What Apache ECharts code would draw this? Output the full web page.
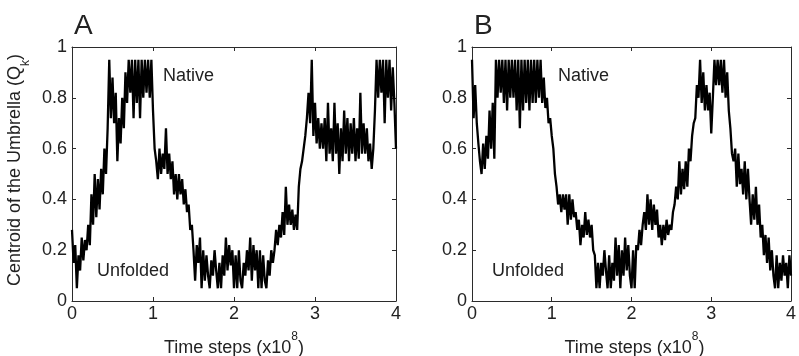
<!DOCTYPE html>
<html><head><meta charset="utf-8">
<script src="https://cdn.jsdelivr.net/npm/echarts@6/dist/echarts.min.js"></script>
<style>html,body{margin:0;padding:0;background:#fff}#c{width:799px;height:356px}</style>
</head><body><div id="c"></div>
<script>
// time between samples, in units of 10^8 time steps
const timeStep = 0.02;
const xTicks = [0, 1, 2, 3, 4];
const yTicks = [0, 0.2, 0.4, 0.6, 0.8, 1];
const panelLabels = ['A', 'B'];
const nativeLabel = 'Native';
const unfoldedLabel = 'Unfolded';

// Centroid of the umbrella Q_k, panel A
const qkA = [
  0.28,0.15,0.22,0.05,0.18, 0.12,0.25,0.16,0.24,0.20,
  0.30,0.22,0.42,0.30,0.50, 0.33,0.48,0.36,0.52,0.42,
  0.60,0.50,0.68,0.95,0.72, 0.88,0.70,0.82,0.55,0.72,
  0.62,0.80,0.68,0.90,0.78, 0.95,0.82,0.95,0.72,0.95,
  0.78,0.95,0.72,0.95,0.80, 0.95,0.82,0.95,0.80,0.95,
  0.75,0.60,0.55,0.48,0.60, 0.50,0.58,0.52,0.68,0.50,
  0.58,0.48,0.55,0.42,0.50, 0.40,0.50,0.42,0.48,0.38,
  0.44,0.35,0.38,0.28,0.30, 0.20,0.08,0.22,0.15,0.25,
  0.05,0.20,0.08,0.18,0.10, 0.05,0.16,0.10,0.20,0.12,
  0.05,0.15,0.05,0.18,0.10, 0.25,0.12,0.22,0.14,0.20,
  0.05,0.18,0.05,0.20,0.08, 0.05,0.15,0.10,0.20,0.12,
  0.25,0.08,0.22,0.12,0.20, 0.05,0.20,0.05,0.18,0.08,
  0.05,0.16,0.10,0.20,0.15, 0.20,0.28,0.22,0.30,0.25,
  0.35,0.26,0.45,0.30,0.38, 0.30,0.36,0.28,0.34,0.28,
  0.45,0.52,0.55,0.60,0.65, 0.72,0.82,0.70,0.95,0.65,
  0.78,0.62,0.72,0.60,0.70, 0.60,0.72,0.55,0.78,0.58,
  0.68,0.55,0.78,0.58,0.70, 0.50,0.68,0.55,0.75,0.58,
  0.72,0.55,0.70,0.58,0.72, 0.55,0.68,0.56,0.82,0.58,
  0.70,0.58,0.68,0.55,0.62, 0.52,0.60,0.75,0.95,0.80,
  0.95,0.82,0.95,0.70,0.95, 0.80,0.95,0.75,0.92,0.78,
  0.60
];

// Centroid of the umbrella Q_k, panel B
const qkB = [
  0.95,0.72,0.85,0.70,0.62, 0.55,0.50,0.62,0.52,0.65,
  0.56,0.75,0.60,0.78,0.56, 0.95,0.80,0.95,0.82,0.95,
  0.78,0.95,0.75,0.95,0.80, 0.95,0.80,0.95,0.75,0.95,
  0.68,0.95,0.75,0.95,0.78, 0.95,0.75,0.95,0.78,0.95,
  0.78,0.95,0.80,0.95,0.78, 0.88,0.76,0.80,0.70,0.72,
  0.65,0.60,0.50,0.45,0.38, 0.42,0.35,0.42,0.36,0.42,
  0.30,0.42,0.32,0.40,0.33, 0.35,0.28,0.32,0.22,0.30,
  0.25,0.35,0.26,0.32,0.25, 0.30,0.20,0.18,0.05,0.15,
  0.05,0.15,0.10,0.20,0.12, 0.05,0.18,0.05,0.15,0.08,
  0.25,0.10,0.22,0.05,0.20, 0.10,0.25,0.12,0.22,0.10,
  0.05,0.20,0.05,0.22,0.20, 0.28,0.22,0.30,0.35,0.28,
  0.42,0.30,0.40,0.28,0.38, 0.30,0.36,0.25,0.30,0.22,
  0.30,0.24,0.32,0.26,0.30, 0.28,0.35,0.38,0.45,0.40,
  0.55,0.42,0.52,0.44,0.55, 0.45,0.60,0.55,0.65,0.70,
  0.72,0.85,0.80,0.95,0.78, 0.90,0.75,0.85,0.75,0.82,
  0.66,0.80,0.95,0.85,0.95, 0.85,0.95,0.82,0.95,0.80,
  0.90,0.75,0.68,0.58,0.55, 0.60,0.45,0.58,0.46,0.52,
  0.42,0.55,0.40,0.52,0.40, 0.30,0.42,0.32,0.45,0.30,
  0.38,0.25,0.30,0.18,0.26, 0.15,0.25,0.12,0.20,0.10,
  0.05,0.18,0.05,0.15,0.08, 0.18,0.10,0.15,0.05,0.18,
  0.10
];

const FONT = '"Liberation Sans", Arial, Helvetica, sans-serif';
const AX = '#2b2b2b';
const TXT = '#222';

function pairs(vals) {
  return vals.map((v, i) => [+(i * timeStep).toFixed(4), v]);
}

const grids = [
  { left: 72, top: 47, width: 324, height: 254 },
  { left: 472, top: 47, width: 325, height: 254 }
];

const xAxes = [], yAxes = [], series = [];
grids.forEach((g, gi) => {
  const base = {
    gridIndex: gi, type: 'value', min: xTicks[0], max: xTicks[xTicks.length - 1],
    interval: xTicks[1] - xTicks[0],
    axisLine: { show: true, onZero: false, lineStyle: { color: AX, width: 1 } },
    axisTick: { show: true, inside: true, length: 4, lineStyle: { color: AX } },
    splitLine: { show: false }
  };
  xAxes.push(Object.assign({}, base, {
    position: 'bottom',
    axisLabel: { show: true, color: TXT, fontSize: 18, fontFamily: FONT, margin: 4 }
  }));
  xAxes.push(Object.assign({}, base, { position: 'top', axisLabel: { show: false } }));
  const ybase = {
    gridIndex: gi, type: 'value', min: yTicks[0], max: yTicks[yTicks.length - 1],
    interval: yTicks[1] - yTicks[0],
    axisLine: { show: true, onZero: false, lineStyle: { color: AX, width: 1 } },
    axisTick: { show: true, inside: true, length: 4, lineStyle: { color: AX } },
    splitLine: { show: false }
  };
  yAxes.push(Object.assign({}, ybase, {
    position: 'left',
    axisLabel: { show: true, color: TXT, fontSize: 18, fontFamily: FONT, margin: 5,
      formatter: v => String(+v.toFixed(1)) }
  }));
  yAxes.push(Object.assign({}, ybase, { position: 'right', axisLabel: { show: false } }));
  series.push({
    type: 'line', xAxisIndex: gi * 2, yAxisIndex: gi * 2,
    data: pairs(gi === 0 ? qkA : qkB),
    showSymbol: false, symbol: 'none', sampling: null,
    lineStyle: { color: '#000', width: 2.3, join: 'miter', miterLimit: 3 },
    animation: false, silent: true
  });
});

const richX = {
  a: { fontSize: 18, fontFamily: FONT, fill: TXT, lineHeight: 26, verticalAlign: 'bottom' },
  s: { fontSize: 12, fontFamily: FONT, fill: TXT, lineHeight: 12, verticalAlign: 'top' }
};
const richY = {
  a: { fontSize: 18, fontFamily: FONT, fill: TXT, lineHeight: 26, verticalAlign: 'top' },
  s: { fontSize: 12, fontFamily: FONT, fill: TXT, lineHeight: 12, verticalAlign: 'bottom' }
};

const graphics = [];
grids.forEach((g, gi) => {
  graphics.push({ type: 'text', x: g.left + 2, y: 12,
    style: { text: panelLabels[gi], font: '28px ' + FONT, fill: TXT } });
  graphics.push({ type: 'text', x: g.left + 91 - (gi ? 5 : 0), y: 67,
    style: { text: nativeLabel, font: '18px ' + FONT, fill: TXT } });
  graphics.push({ type: 'text', x: g.left + 25 - (gi ? 5 : 0), y: 262,
    style: { text: unfoldedLabel, font: '18px ' + FONT, fill: TXT } });
  graphics.push({ type: 'text', x: g.left + g.width / 2, y: 344,
    style: { text: '{a|Time steps (x10}{s|8}{a|)}', rich: richX, align: 'center', verticalAlign: 'middle' } });
});
graphics.push({ type: 'text', x: 19, y: 170, rotation: Math.PI / 2,
  style: { text: '{a|Centroid of the Umbrella (Q}{s|k}{a|)}', rich: richY, align: 'center', verticalAlign: 'middle' } });

const chart = echarts.init(document.getElementById('c'), null, { renderer: 'canvas' });
chart.setOption({
  animation: false,
  backgroundColor: '#fff',
  grid: grids,
  xAxis: xAxes,
  yAxis: yAxes,
  series: series,
  graphic: graphics
});
</script>
</body></html>
